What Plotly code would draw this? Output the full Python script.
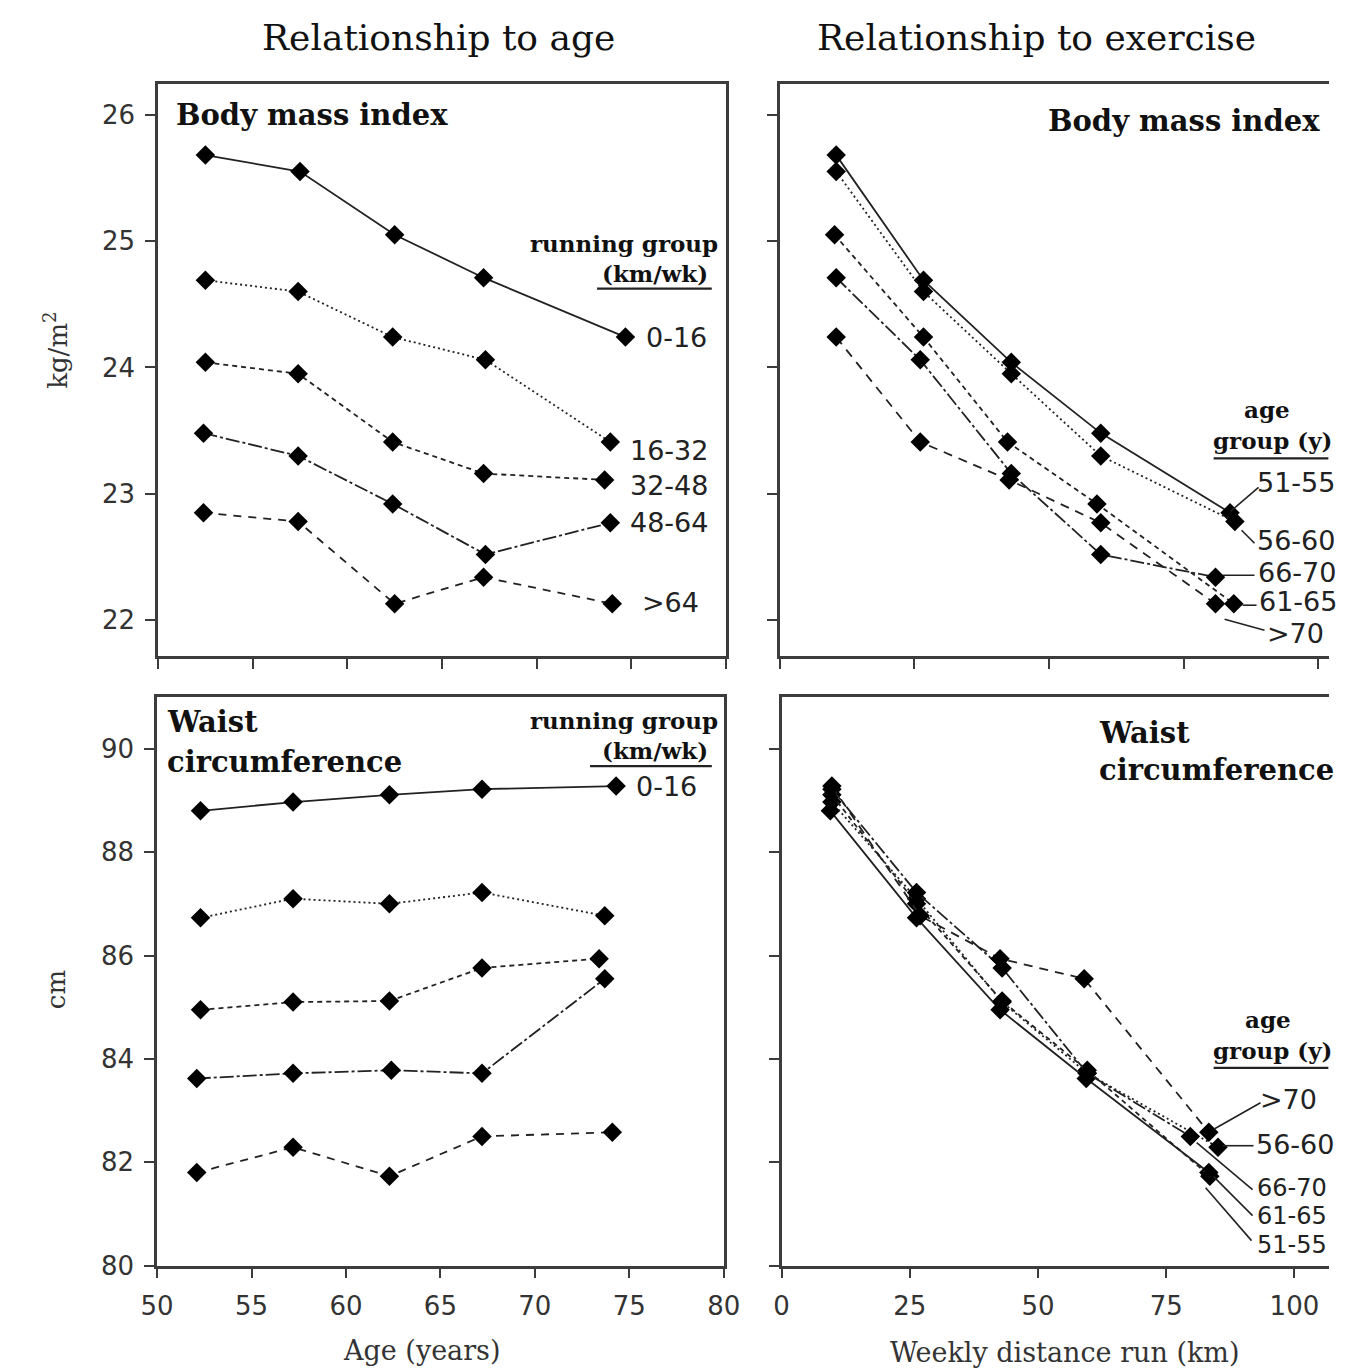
import plotly.graph_objects as go

W, H = 1346, 1371

running_groups = ["0-16", "16-32", "32-48", "48-64", ">64"]
age_groups = ["51-55", "56-60", "61-65", "66-70", ">70"]

# BMI (kg/m2): rows = running group, columns = age group
bmi = [
    [25.68, 25.55, 25.05, 24.71, 24.24],
    [24.69, 24.60, 24.24, 24.06, 23.41],
    [24.04, 23.95, 23.41, 23.16, 23.11],
    [23.48, 23.30, 22.92, 22.52, 22.77],
    [22.85, 22.78, 22.13, 22.34, 22.13],
]
# Waist circumference (cm): rows = running group, columns = age group
waist = [
    [88.80, 88.97, 89.11, 89.22, 89.28],
    [86.73, 87.10, 87.00, 87.22, 86.77],
    [84.95, 85.10, 85.12, 85.76, 85.94],
    [83.62, 83.72, 83.78, 83.72, 85.55],
    [81.80, 82.29, 81.73, 82.50, 82.58],
]
# mean age (years) per running group / age group, BMI panel
age_bmi = [
    [52.5, 57.5, 62.5, 67.2, 74.7],
    [52.5, 57.4, 62.4, 67.3, 73.9],
    [52.5, 57.4, 62.4, 67.2, 73.6],
    [52.4, 57.4, 62.4, 67.3, 73.9],
    [52.4, 57.4, 62.5, 67.2, 74.0],
]
# mean age (years), waist panel
age_waist = [
    [52.3, 57.2, 62.3, 67.2, 74.3],
    [52.3, 57.2, 62.3, 67.2, 73.7],
    [52.3, 57.2, 62.3, 67.2, 73.4],
    [52.1, 57.2, 62.4, 67.2, 73.7],
    [52.1, 57.2, 62.3, 67.2, 74.1],
]
# mean weekly distance (km): rows = age group, columns = running group, BMI panel
dist_bmi = [
    [10.5, 26.7, 43.0, 59.6, 83.6],
    [10.5, 26.7, 43.0, 59.6, 84.5],
    [10.2, 26.7, 42.3, 58.9, 84.3],
    [10.5, 26.1, 43.0, 59.6, 80.9],
    [10.5, 26.1, 42.6, 59.6, 80.9],
]
# waist panel
dist_waist = [
    [9.5, 26.3, 42.6, 59.4, 83.3],
    [9.8, 26.3, 43.0, 59.6, 85.1],
    [9.8, 26.3, 43.0, 59.6, 83.5],
    [9.8, 26.3, 43.0, 59.6, 79.7],
    [9.8, 27.0, 42.6, 59.0, 83.3],
]

rg_dash = ["solid", "2px,3px", "5px,4px", "14px,3px,3px,3px", "8px,7px"]
ag_dash = ["solid", "2px,3px", "5px,4px", "14px,3px,3px,3px", "9px,7px"]

LINE = "#222222"
FRAME = "#3c3c3c"
SERIF = "DejaVu Serif"
SANS = "DejaVu Sans"


# layout helpers: positions are given in reference-picture pixels
def X(x):
    return (x - 15.6) / 0.977


def Y(y):
    return (y + 0.8) / 0.99


def px(x):
    return min(1.0, max(0.0, X(x) / W))


def py(y):
    return min(1.0, max(0.0, 1 - Y(y) / H))


fig = go.Figure()

def add_series(xs, ys, dash, xa, ya, name):
    fig.add_trace(go.Scatter(
        x=xs, y=ys, mode="lines+markers", name=name, showlegend=False,
        line=dict(color=LINE, width=1.8, dash=dash),
        marker=dict(symbol="diamond", size=15, color="black"),
        xaxis=xa, yaxis=ya,
    ))

# top-left: BMI vs age, one line per running group
for i, g in enumerate(running_groups):
    add_series(age_bmi[i], bmi[i], rg_dash[i], "x", "y", g)
# top-right: BMI vs distance, one line per age group
for j, g in enumerate(age_groups):
    add_series(dist_bmi[j], [bmi[i][j] for i in range(5)], ag_dash[j], "x2", "y2", g)
# bottom-left: waist vs age
for i, g in enumerate(running_groups):
    add_series(age_waist[i], waist[i], rg_dash[i], "x3", "y3", g)
# bottom-right: waist vs distance
for j, g in enumerate(age_groups):
    add_series(dist_waist[j], [waist[i][j] for i in range(5)], ag_dash[j], "x4", "y4", g)

tickfont = dict(family=SANS, size=26, color="#333333")
common = dict(showline=True, linecolor=FRAME, linewidth=2.6, ticks="outside",
              ticklen=10, tickwidth=2, tickcolor=FRAME, showgrid=False,
              zeroline=False, tickfont=tickfont, ticklabelstandoff=5)

# right-hand x ranges so that tick 0 and 100 land where the reference has them
tr_max = 100 * (W - X(780)) / (X(1320) - X(780))
br_max = 100 * (W - X(782)) / (X(1296) - X(782))

fig.update_layout(
    width=W, height=H, margin=dict(l=0, r=0, t=0, b=0),
    paper_bgcolor="white", plot_bgcolor="white",
    xaxis=dict(domain=[px(157), px(726)], range=[50, 80], dtick=5,
               showticklabels=False, mirror=True, anchor="y", **common),
    yaxis=dict(domain=[py(656), py(83)], range=[21.715, 26.245], dtick=1,
               mirror=True, anchor="x", **common),
    xaxis2=dict(domain=[px(780), 1.0], range=[0, tr_max], dtick=25,
                showticklabels=False, mirror=True, anchor="y2", **common),
    yaxis2=dict(domain=[py(656), py(83)], range=[21.715, 26.245], dtick=1,
                showticklabels=False, anchor="x2", **common),
    xaxis3=dict(domain=[px(156), px(724)], range=[50, 80], dtick=5,
                mirror=True, anchor="y3", **common),
    yaxis3=dict(domain=[py(1266), py(697)], range=[80, 91], dtick=2,
                mirror=True, anchor="x3", **common),
    xaxis4=dict(domain=[px(782), 1.0], range=[0, br_max], dtick=25,
                mirror=True, anchor="y4", **common),
    yaxis4=dict(domain=[py(1266), py(697)], range=[80, 91], dtick=2,
                showticklabels=False, anchor="x4", **common),
)

ann = []

def text(x, y, s, size=24, family=SANS, xanchor="left", color="#222222", angle=0):
    ann.append(dict(x=px(x), y=py(y), xref="paper", yref="paper", text=s,
                    showarrow=False, xanchor=xanchor, yanchor="middle",
                    textangle=angle,
                    font=dict(family=family, size=size, color=color)))

# column titles
text(438, 37, "Relationship to age", size=36, family=SERIF, xanchor="center", color="#111111")
text(1037, 37, "Relationship to exercise", size=36, family=SERIF, xanchor="center", color="#111111")

# panel titles
text(173, 114, "<b>Body mass index</b>", size=29, family=SERIF, color="#111111")
text(1324, 120, "<b>Body mass index</b>", size=29, family=SERIF, xanchor="right", color="#111111")
text(164, 722, "<b>Waist</b>", size=29, family=SERIF, color="#111111")
text(164, 762, "<b>circumference</b>", size=29, family=SERIF, color="#111111")
text(1098, 733, "<b>Waist</b>", size=29, family=SERIF, color="#111111")
text(1098, 770, "<b>circumference</b>", size=29, family=SERIF, color="#111111")

# axis titles
text(422, 1351, "Age (years)", size=27, family=SERIF, xanchor="center", color="#333333")
text(1066, 1353, "Weekly distance run (km)", size=27, family=SERIF, xanchor="center", color="#333333")
text(55, 350, "kg/m<sup>2</sup>", size=26, family=SERIF, xanchor="center", color="#333333", angle=-90)
text(55, 990, "cm", size=26, family=SERIF, xanchor="center", color="#333333", angle=-90)

# legend headers
HS = 23
text(624, 243, "<b>running group</b>", size=HS, family=SERIF, xanchor="center", color="#111111")
text(655, 273, "<b>(km/wk)</b>", size=HS, family=SERIF, xanchor="center", color="#111111")
text(624, 720, "<b>running group</b>", size=HS, family=SERIF, xanchor="center", color="#111111")
text(655, 750, "<b>(km/wk)</b>", size=HS, family=SERIF, xanchor="center", color="#111111")
text(1268, 409, "<b>age</b>", size=HS, family=SERIF, xanchor="center", color="#111111")
text(1274, 440, "<b>group (y)</b>", size=HS, family=SERIF, xanchor="center", color="#111111")
text(1270, 1020, "<b>age</b>", size=HS, family=SERIF, xanchor="center", color="#111111")
text(1274, 1051, "<b>group (y)</b>", size=HS, family=SERIF, xanchor="center", color="#111111")

LS = 27
# series labels top-left
tl_labels = [(644, 337), (628, 450), (628, 485), (628, 522), (640, 602)]
for g, (x, y) in zip(running_groups, tl_labels):
    text(x, y, g, size=LS)
# bottom-left
text(634, 786, running_groups[0], size=LS)

# top-right labels
tr_labels = {"51-55": (1256, 482), "56-60": (1256, 540), "66-70": (1257, 572),
             "61-65": (1258, 601), ">70": (1266, 633)}
for g, (x, y) in tr_labels.items():
    text(x, y, g, size=LS)
# bottom-right labels
br_labels = {">70": (1259, 1100), "56-60": (1255, 1145), "66-70": (1256, 1188),
             "61-65": (1256, 1216), "51-55": (1256, 1245)}
for g, (x, y) in br_labels.items():
    text(x, y, g, size=LS if g in (">70", "56-60") else 24)

fig.update_layout(annotations=ann)

shapes = []

def seg(x0, y0, x1, y1, w=1.6, color=LINE):
    shapes.append(dict(type="line", xref="paper", yref="paper",
                       x0=px(x0), y0=py(y0), x1=px(x1), y1=py(y1),
                       line=dict(color=color, width=w)))

# header underlines
seg(597, 288, 712, 288, w=2.2)
seg(590, 766, 712, 766, w=2.2)
seg(1215, 458, 1330, 458, w=2.2)
seg(1215, 1068, 1330, 1068, w=2.2)

# leader lines top-right
seg(1232, 511, 1260, 487)
seg(1243, 530, 1256, 543)
seg(1224, 575, 1256, 575)
seg(1244, 605, 1258, 605)
seg(1226, 619, 1266, 630)
# leader lines bottom-right
seg(1216, 1129, 1262, 1103)
seg(1224, 1146, 1255, 1146)
seg(1198, 1143, 1254, 1190)
seg(1215, 1177, 1254, 1216)
seg(1207, 1188, 1253, 1241)

fig.update_layout(shapes=shapes)

fig.write_html("out.html", config={"displayModeBar": False},
               post_script="document.body.style.margin='0';document.body.style.overflow='hidden';")
